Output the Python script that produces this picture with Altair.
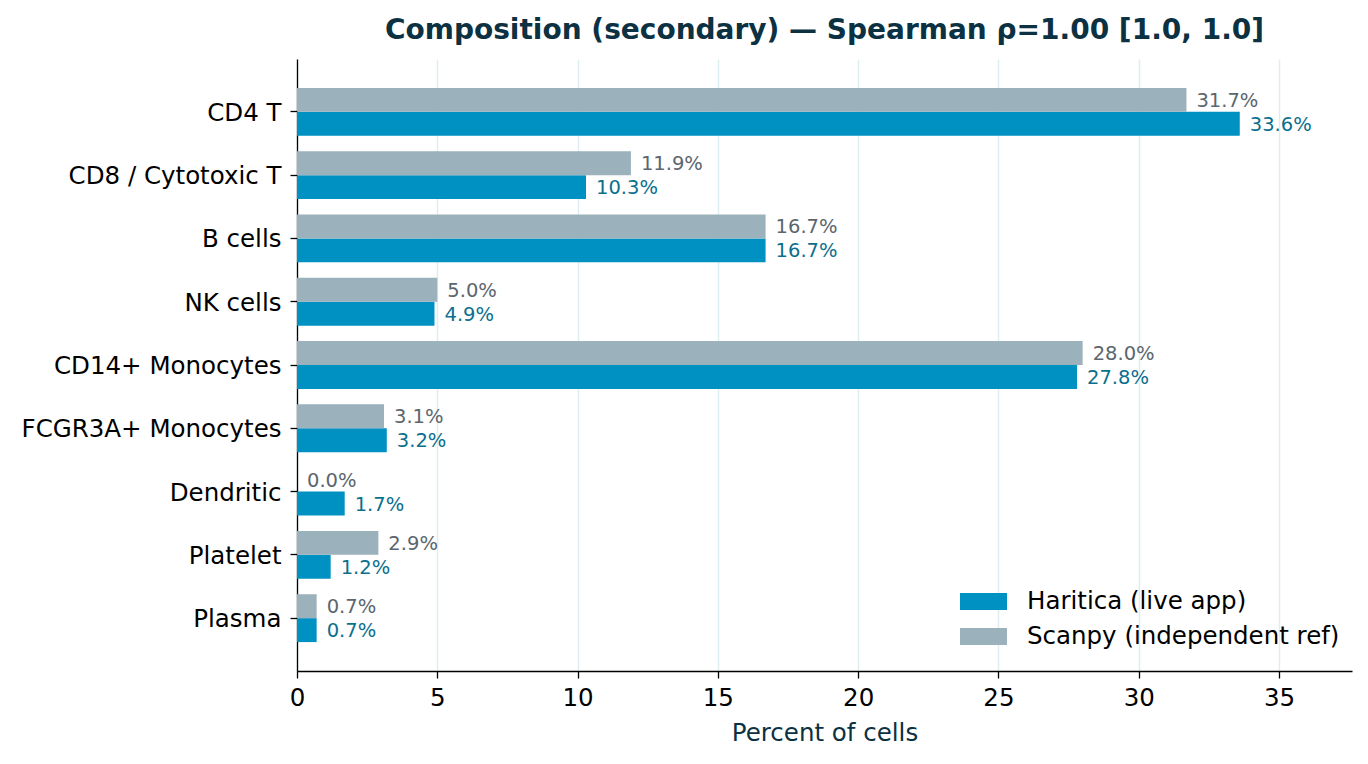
import altair as alt
import pandas as pd

categories = ["CD4 T", "CD8 / Cytotoxic T", "B cells", "NK cells", "CD14+ Monocytes",
              "FCGR3A+ Monocytes", "Dendritic", "Platelet", "Plasma"]
haritica = [33.6, 10.3, 16.7, 4.9, 27.8, 3.2, 1.7, 1.2, 0.7]
scanpy = [31.7, 11.9, 16.7, 5.0, 28.0, 3.1, 0.0, 2.9, 0.7]
series_names = ["Haritica (live app)", "Scanpy (independent ref)"]
bar_colors = ["#0091c3", "#9bb1bb"]
label_colors = ["#0b6f8e", "#5b666e"]

rows = []
for i, c in enumerate(categories):
    rows.append({"cat": c, "series": series_names[0], "value": haritica[i], "lc": label_colors[0]})
    rows.append({"cat": c, "series": series_names[1], "value": scanpy[i], "lc": label_colors[1]})
df = pd.DataFrame(rows)

FONT = "DejaVu Sans"
FS = 24.5

y = alt.Y("cat:N", sort=categories, title=None,
          scale=alt.Scale(paddingInner=0.244, paddingOuter=0.457),
          axis=alt.Axis(labelFontSize=FS, labelColor="#000000", labelPadding=9,
                        tickSize=7, tickColor="#000000", domainColor="#000000",
                        tickWidth=1.3, domainWidth=1.3, labelFont=FONT, labelLimit=0,
                        labelOffset=2))
yoff = alt.YOffset("series:N", sort=[series_names[1], series_names[0]],
                   scale=alt.Scale(domain=[series_names[1], series_names[0]], paddingInner=0, paddingOuter=0))
x = alt.X("value:Q", title="Percent of cells",
          scale=alt.Scale(domain=[0, 37.6], nice=False, zero=True),
          axis=alt.Axis(values=[0, 5, 10, 15, 20, 25, 30, 35], format="d",
                        labelFontSize=FS, labelColor="#000000", tickSize=7,
                        tickColor="#000000", domainColor="#000000", tickWidth=1.3,
                        domainWidth=1.3, grid=True, gridColor="#deedf0", gridWidth=1.5,
                        titleFontSize=FS, titleColor="#0b3142", titleFontWeight="normal",
                        titlePadding=12, labelFont=FONT, titleFont=FONT, labelPadding=8,
                        labelFlush=False))

bars = alt.Chart(df).mark_bar().encode(
    x=x, y=y, yOffset=yoff,
    color=alt.Color("series:N", sort=series_names,
                    scale=alt.Scale(domain=series_names, range=bar_colors),
                    legend=alt.Legend(title=None, orient="none", legendX=663, legendY=519,
                                      labelFontSize=FS, labelColor="#000000", labelFont=FONT,
                                      labelLimit=0,
                                      symbolType="M-1,-0.36L1,-0.36L1,0.36L-1,0.36Z",
                                      symbolSize=2209, symbolStrokeWidth=0, symbolOpacity=1,
                                      labelOffset=20, rowPadding=-1, padding=0)),
)

labels = alt.Chart(df).transform_calculate(
    txt="format(datum.value, '.1f') + '%'"
).mark_text(align="left", baseline="middle", dx=10, dy=1, fontSize=19.5, font=FONT).encode(
    x="value:Q", y=alt.Y("cat:N", sort=categories), yOffset=yoff,
    text="txt:N", color=alt.Color("lc:N", scale=None),
)

chart = alt.layer(bars, labels).properties(
    width=1055, height=612,
    title=alt.TitleParams("Composition (secondary) — Spearman ρ=1.00 [1.0, 1.0]",
                          fontSize=28, font=FONT, fontWeight="bold", color="#0b3142",
                          anchor="middle", offset=14),
    padding={"left": 21, "top": 17, "right": 16, "bottom": 3},
).configure_view(stroke=None).configure_axisY(grid=False)

chart.save("out.html", embed_options={"renderer": "svg", "actions": False})
